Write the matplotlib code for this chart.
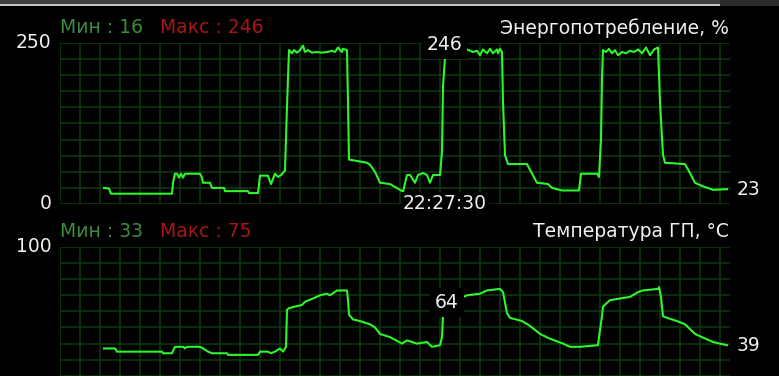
import matplotlib.pyplot as plt
from matplotlib.patches import Rectangle

plt.rcParams['font.family'] = ['DejaVu Sans']

# sample index (one sample per graph pixel) and readings
power_t = [44, 49, 51, 112, 113, 115, 117, 119, 121, 123, 125, 140, 142, 143, 150, 152, 164, 165,
           188, 189, 198, 200, 208, 211, 215, 218, 221, 225, 227, 229, 232, 234, 237, 240, 243, 245,
           248, 252, 257, 262, 267, 272, 275, 278, 282, 283, 287, 288, 289, 307, 310, 315, 320, 330,
           340, 343, 347, 350, 355, 358, 363, 367, 370, 373, 380, 382, 383, 385, 401, 407, 410, 413,
           417, 420, 423, 427, 430, 433, 437, 438, 440, 442, 443, 445, 448, 467, 470, 477, 488, 492,
           502, 519, 521, 537, 539, 541, 542, 543, 546, 549, 552, 555, 558, 562, 566, 570, 574, 578,
           582, 586, 590, 594, 598, 600, 603, 605, 625, 630, 635, 642, 653, 667]
power = [25, 24, 16, 16, 33, 47, 47, 41, 47, 41, 47, 47, 41, 33, 33, 25, 25, 20,
         20, 17, 17, 44, 44, 31, 47, 42, 45, 52, 152, 239, 234, 239, 235, 239, 246, 236,
         239, 235, 236, 235, 236, 238, 236, 243, 236, 241, 239, 158, 69, 64, 61, 50, 33, 31,
         22, 19, 45, 45, 33, 45, 48, 45, 33, 45, 45, 81, 182, 228, 228, 240, 238, 236,
         238, 231, 240, 234, 241, 234, 240, 234, 241, 236, 158, 76, 62, 62, 53, 33, 31, 25,
         21, 21, 47, 47, 42, 100, 195, 239, 236, 241, 234, 239, 231, 236, 234, 238, 236, 240,
         234, 243, 231, 240, 243, 158, 76, 64, 62, 48, 33, 28, 22, 23]

temp_t = [44, 55, 57, 102, 103, 112, 115, 123, 125, 127, 140, 143, 148, 152, 167, 168, 198, 200,
          208, 211, 215, 220, 223, 226, 227, 229, 235, 242, 245, 253, 260, 267, 270, 277, 287, 288,
          289, 293, 300, 310, 315, 320, 330, 342, 347, 352, 357, 367, 372, 380, 382, 383, 385, 400,
          407, 420, 427, 440, 443, 447, 450, 462, 470, 480, 490, 503, 510, 520, 538, 539, 542, 543,
          550, 560, 570, 578, 583, 598, 599, 601, 603, 607, 617, 625, 635, 642, 653, 667]
temp = [37, 37, 35, 35, 34, 34, 38, 38, 37, 38, 38, 37, 35, 34, 34, 33, 33, 35,
        35, 34, 35, 37, 35, 38, 61, 62, 63, 64, 66, 68, 70, 71, 70, 73, 73, 67,
        58, 55, 54, 52, 50, 46, 44, 40, 42, 41, 40, 41, 38, 39, 44, 57, 58, 68,
        70, 71, 73, 74, 72, 59, 56, 54, 51, 46, 43, 40, 38, 38, 39, 44, 57, 63,
        67, 68, 69, 72, 73, 74, 75, 69, 57, 56, 54, 52, 46, 44, 41, 39]

cursor_t = 403
cursor_time = "22:27:30"
power_cursor, temp_cursor = 246, 64
power_min, power_max = 16, 246
temp_min, temp_max = 33, 75

W, H = 779, 376
BG = 'black'
GRID = '#0e3a0e'
LINE = '#2ef52e'
TXT = '#f0f0f0'
MINC = '#3c8c3c'
MAXC = '#a81616'
FS = 13.5

fig = plt.figure(figsize=(W / 100, H / 100), dpi=100, facecolor=BG)


def make_panel(top_px, ymax):
    ax = fig.add_axes([60 / W, 1 - (top_px + 161) / H, 670 / W, 161 / H])
    ax.set_facecolor(BG)
    ax.set_xlim(0, 670)
    ax.set_ylim(0, ymax)
    ax.set_xticks(range(0, 661, 20))
    ax.set_yticks([ymax * i / 10 for i in range(11)])
    ax.grid(True, color=GRID, lw=1.1)
    ax.tick_params(length=0, labelbottom=False, labelleft=False)
    for s in ax.spines.values():
        s.set_visible(False)
    return ax


ax1 = make_panel(43, 250)
ax1.plot(power_t, power, color=LINE, lw=1.5, clip_on=False)
ax2 = make_panel(247, 100)
ax2.plot(temp_t, temp, color=LINE, lw=1.5, clip_on=False)

box = dict(facecolor=BG, edgecolor='none', pad=3.5)

# headers
for ax, mn, mx, name, top in [(ax1, power_min, power_max, 'Энергопотребление, %', 250),
                             (ax2, temp_min, temp_max, 'Температура ГП, °C', 100)]:
    ax.annotate(f'Мин : {mn}', xy=(0, 1), xycoords='axes fraction', xytext=(0, 11),
                textcoords='offset points', color=MINC, fontsize=FS, va='center', ha='left')
    ax.annotate(f'Макс : {mx}', xy=(0, 1), xycoords='axes fraction', xytext=(72, 11),
                textcoords='offset points', color=MAXC, fontsize=FS, va='center', ha='left')
    ax.annotate(name, xy=(1, 1), xycoords='axes fraction', xytext=(-1, 11),
                textcoords='offset points', color=TXT, fontsize=FS, va='center', ha='right')
    ax.annotate(str(top), xy=(0, top), xycoords='data', xytext=(-6, 0),
                textcoords='offset points', color=TXT, fontsize=FS, va='center', ha='right')

ax1.annotate('0', xy=(0, 0), xytext=(-6, 0), textcoords='offset points',
             color=TXT, fontsize=FS, va='center', ha='right')

# last values on the right
ax1.annotate(str(power[-1]), xy=(power_t[-1], power[-1]), xytext=(7, 0),
             textcoords='offset points', color=TXT, fontsize=FS, va='center', ha='left',
             annotation_clip=False)
ax2.annotate(str(temp[-1]), xy=(temp_t[-1], temp[-1]), xytext=(7, 0),
             textcoords='offset points', color=TXT, fontsize=FS, va='center', ha='left',
             annotation_clip=False)

# cursor readout
ax1.annotate(str(power_cursor), xy=(cursor_t, power_cursor), xytext=(-0.5, 1),
             textcoords='offset points', color=TXT, fontsize=FS, va='center', ha='right',
             bbox=box)
ax2.annotate(str(temp_cursor), xy=(cursor_t, temp_cursor), xytext=(-3, 2),
             textcoords='offset points', color=TXT, fontsize=FS, va='center', ha='right',
             bbox=box)
ax1.annotate(cursor_time, xy=(cursor_t - 18, 0), xytext=(0, 0),
             textcoords='offset points', color=TXT, fontsize=FS, va='center', ha='center',
             bbox=dict(facecolor=BG, edgecolor='none', pad=1.5))

# window border strip at the top
fig.add_artist(Rectangle((0, 1 - 4 / H), 720 / W, 4 / H, transform=fig.transFigure,
                         facecolor='#404040', edgecolor='none'))
fig.add_artist(Rectangle((0, 1 - 6 / H), 720 / W, 2 / H, transform=fig.transFigure,
                         facecolor='#c4c4c4', edgecolor='none'))
fig.add_artist(Rectangle((720 / W, 1 - 6 / H), 59 / W, 6 / H, transform=fig.transFigure,
                         facecolor='#2a2a2a', edgecolor='none'))

fig.savefig('out.png', dpi=100, facecolor=BG)
